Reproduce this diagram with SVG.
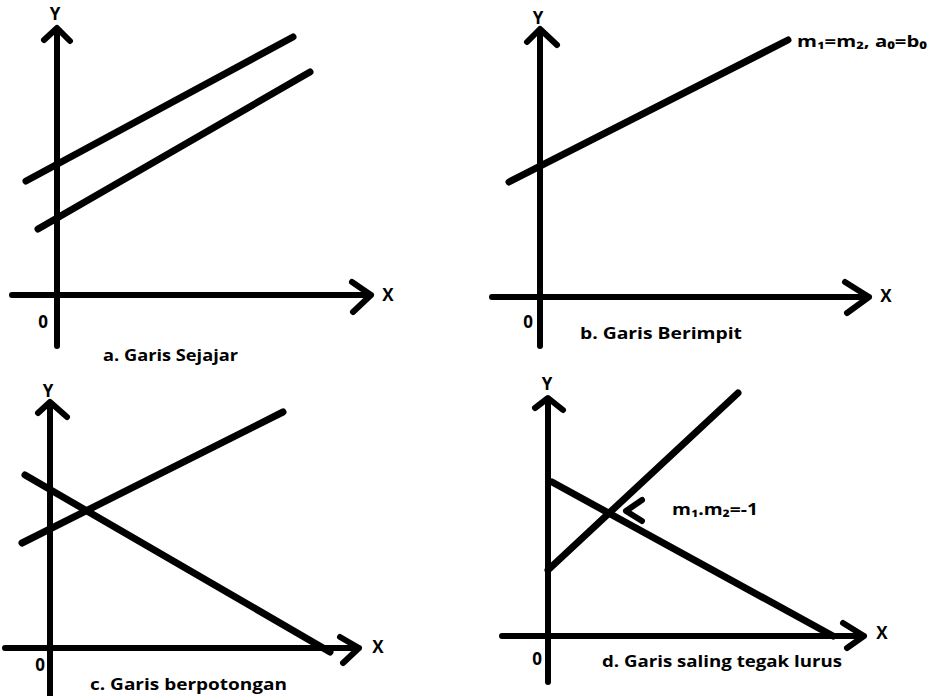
<svg xmlns="http://www.w3.org/2000/svg" width="937" height="696" viewBox="0 0 937 696">
<style>
.ax{stroke:#000;stroke-width:6;stroke-linecap:round;stroke-linejoin:round;fill:none}
.ln{stroke:#000;stroke-width:7;stroke-linecap:round;fill:none}
.t{font-family:"Open Sans","Liberation Sans",sans-serif;font-weight:bold;font-size:16px;fill:#000}
.a{font-family:"Open Sans","Liberation Sans",sans-serif;font-weight:bold;font-size:17px;fill:#000;text-anchor:middle}
</style>
<rect width="937" height="696" fill="#fff"/>
<g id="panel-a">
<path class="ax" d="M57 29V346M12 295H371M44 40L57 28L70 41M352 282L371 295L353 312"/>
<text class="a" x="55" y="20">Y</text>
<text class="a" x="388" y="301">X</text>
<text class="a" x="43" y="328">0</text>
<text class="t" x="103" y="361" textLength="135" lengthAdjust="spacingAndGlyphs">a. Garis Sejajar</text>
</g>
<g id="panel-b">
<path class="ax" d="M540 30V346M492 297H869M527 42L540 29L557 45M845 282L869 297L847 313"/>
<text class="a" x="538" y="24">Y</text>
<text class="a" x="886" y="302">X</text>
<text class="a" x="528" y="328">0</text>
<text class="t" x="580" y="339" textLength="162" lengthAdjust="spacingAndGlyphs">b. Garis Berimpit</text>
<text class="t" x="797" y="47" textLength="130" lengthAdjust="spacingAndGlyphs">m₁=m₂, a₀=b₀</text>
</g>
<g id="panel-c">
<path class="ax" d="M50 403V696M5 648H359M38 413L50 402L67 417M340 637L359 648L343 663"/>
<text class="a" x="48" y="397">Y</text>
<text class="a" x="378" y="653">X</text>
<text class="a" x="40" y="671">0</text>
<text class="t" x="90" y="690" textLength="197" lengthAdjust="spacingAndGlyphs">c. Garis berpotongan</text>
</g>
<g id="panel-d">
<path class="ax" d="M548 400V682M502 636H864M535 408L548 398L563 410M843 623L864 636L847 648"/>
<text class="a" x="547" y="390">Y</text>
<text class="a" x="882" y="639">X</text>
<text class="a" x="537" y="665">0</text>
<text class="t" x="602" y="667" textLength="240" lengthAdjust="spacingAndGlyphs">d. Garis saling tegak lurus</text>
<text class="t" x="672" y="515" textLength="86" lengthAdjust="spacingAndGlyphs">m₁.m₂=-1</text>
</g>
<g id="connectors">
<line class="ln" x1="26" y1="181" x2="293" y2="37"/>
<line class="ln" x1="38" y1="229" x2="310" y2="72"/>
<line class="ln" x1="509" y1="182" x2="788" y2="40"/>
<line class="ln" x1="22" y1="543" x2="283" y2="412"/>
<line class="ln" x1="25" y1="475" x2="330" y2="652"/>
<line class="ln" x1="548" y1="570" x2="738" y2="393"/>
<line class="ln" x1="552" y1="482" x2="833" y2="636"/>
<path class="ax" d="M642 500L626 511L642 521"/>
</g>
</svg>
